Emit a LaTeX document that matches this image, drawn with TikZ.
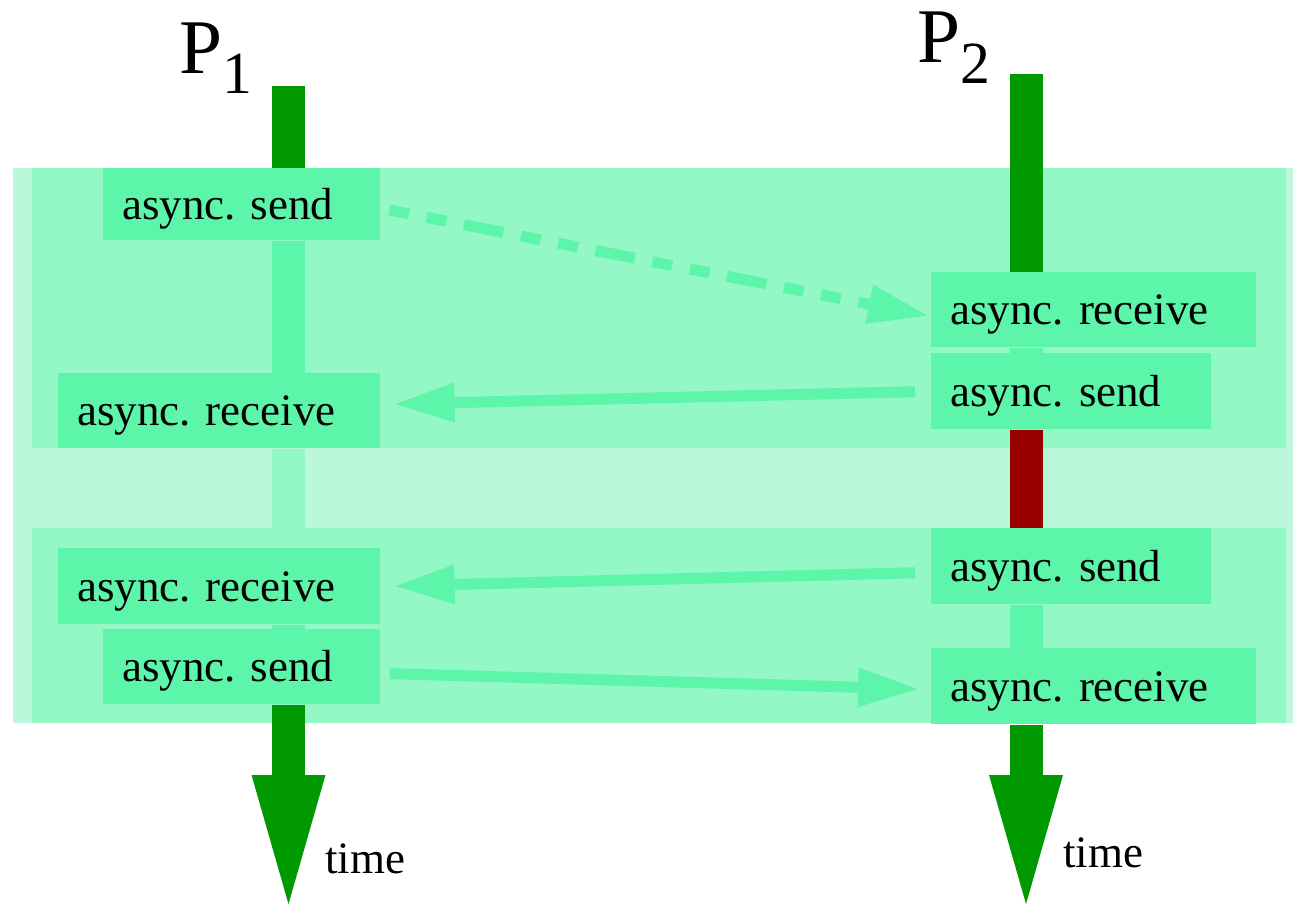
\documentclass[tikz,border=0pt]{standalone}
\usepackage{fontspec}
\setmainfont{Liberation Serif}
\usetikzlibrary{arrows.meta}
\usetikzlibrary{positioning}
\definecolor{boxgreen}{HTML}{5CF5AA}
\definecolor{bandgreen}{HTML}{94F7C6}
\definecolor{palegreen}{HTML}{BBF8DB}
\definecolor{linegreen}{HTML}{009900}
\definecolor{waitred}{HTML}{990000}
\frenchspacing

\begin{document}
\begin{tikzpicture}[x=0.02cm, y=-0.02cm,
    box/.style={fill=boxgreen, anchor=north west, inner ysep=0pt, inner xsep=0.38cm, minimum height=1.5cm, text height=0.8cm, text depth=0.2cm, align=left, font=\fontsize{25.6}{30}\selectfont},
    lbl/.style={anchor=base west, inner sep=0pt},
    tl/.style={line width=0.66cm},
    msg/.style={boxgreen, line width=0.22cm, -{Triangle[length=1.18cm, width=0.8cm, line width=0pt]}},
    big/.style={-{Triangle[length=2.58cm, width=1.48cm, line width=0pt]}}]
    \useasboundingbox (0,0) rectangle (1293,904);

    \fill[palegreen] (13,168) rectangle (1293,723);
    \fill[bandgreen] (32,168) rectangle (1286,448);
    \fill[bandgreen] (32,528) rectangle (1286,723);

    \node[lbl, font=\fontsize{44}{44}\selectfont] (p1lbl) at (179,73) {P\raisebox{-0.4cm}{\fontsize{34}{34}\selectfont 1}};
    \node[lbl, font=\fontsize{44}{44}\selectfont] (p2lbl) at (917,62) {P\raisebox{-0.42cm}{\fontsize{34}{34}\selectfont 2}};

    \coordinate (p1top) at (288.5,86);
    \coordinate (p1tip) at (288.5,904);
    \coordinate (p2top) at (1026,74);
    \coordinate (p2tip) at (1026,904);

    \node[box, text width=4.78cm, minimum height=1.44cm] (p1s1) at (103,168) {async. send};
    \node[box, text width=5.68cm] (p1r1) at (58,373) {async. receive};
    \node[box, text width=5.68cm, minimum height=1.52cm] (p1r2) at (58,548) {async. receive};
    \node[box, text width=4.78cm] (p1s2) at (103,629) {async. send};
    \node[box, text width=5.74cm] (p2r1) at (931,272) {async. receive};
    \node[box, text width=4.84cm, minimum height=1.52cm] (p2s1) at (931,353) {async. send};
    \node[box, text width=4.84cm, minimum height=1.52cm] (p2s2) at (931,528) {async. send};
    \node[box, text width=5.74cm, minimum height=1.52cm] (p2r2) at (931,648) {async. receive};

    \draw[tl, linegreen] (p1top) -- (p1s1.north -| p1top);
    \draw[tl, boxgreen] (p1s1.south -| p1top) -- (p1r1.north -| p1top);
    \draw[tl, bandgreen] (p1r1.south -| p1top) -- (p1r2.north -| p1top);
    \draw[tl, boxgreen] (p1r2.south -| p1top) -- (p1s2.north -| p1top);
    \draw[tl, big, linegreen] (p1s2.south -| p1top) -- (p1tip);

    \draw[tl, linegreen] (p2top) -- (p2r1.north -| p2top);
    \draw[tl, boxgreen] (p2r1.south -| p2top) -- (p2s1.north -| p2top);
    \draw[tl, waitred] (p2s1.south -| p2top) -- (p2s2.north -| p2top);
    \draw[tl, boxgreen] (p2s2.south -| p2top) -- (p2r2.north -| p2top);
    \draw[tl, big, linegreen] (p2r2.south -| p2top) -- (p2tip);

    \draw[msg, dash pattern=on 0.4cm off 0.36cm on 0.4cm off 0.36cm on 0.8cm off 0.36cm, shorten <=0.18cm, shorten >=0.08cm] ([yshift=-0.08cm]p1s1.east) -- ([yshift=-0.13cm]p2r1.west);
    \draw[msg, shorten <=0.32cm, shorten >=0.3cm] (p2s1.west) -- ([yshift=0.13cm]p1r1.east);
    \draw[msg, shorten <=0.32cm, shorten >=0.3cm] ([yshift=-0.12cm]p2s2.west) -- (p1r2.east);
    \draw[msg, shorten <=0.18cm, shorten >=0.28cm] ([yshift=-0.13cm]p1s2.east) -- ([yshift=-0.06cm]p2r2.west);

    \node[lbl, font=\fontsize{25.6}{30}\selectfont] (t1) at (325,873) {time};
    \node[lbl, font=\fontsize{25.6}{30}\selectfont] (t2) at (1063,867) {time};
\end{tikzpicture}
\end{document}
